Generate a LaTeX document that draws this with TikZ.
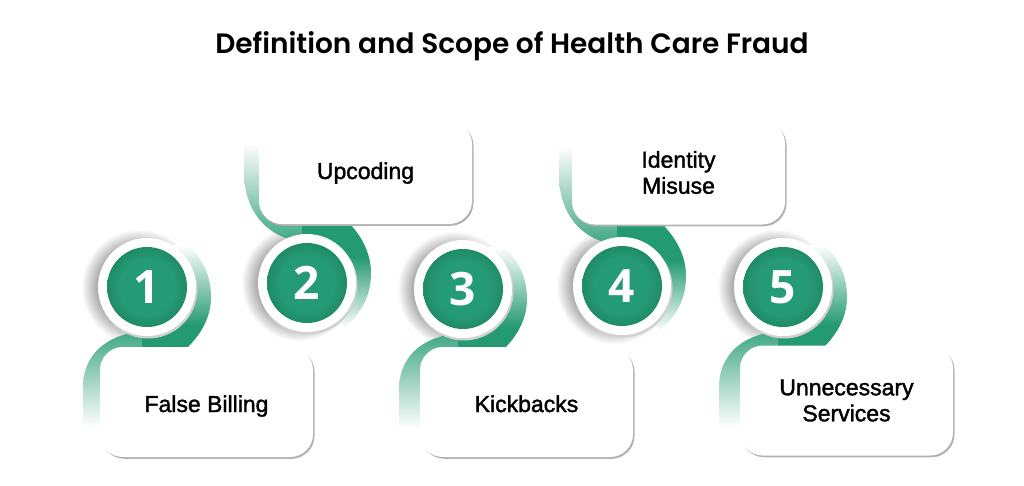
\documentclass[tikz,border=0pt]{standalone}
\usepackage{fontspec}
\setmainfont{Liberation Sans}
\newfontfamily\titlefont{Poppins SemiBold}
\newfontfamily\labelfont[FakeBold=1.6]{Liberation Sans}
\newfontfamily\numfont{Open Sans}
\usetikzlibrary{shadows}
\definecolor{gm}{HTML}{259B75}
\definecolor{gd}{HTML}{1F8B67}
\definecolor{rib}{HTML}{249A72}
\definecolor{ribl}{HTML}{3FA785}
\pgfdeclareradialshading{greenball}{\pgfpoint{0bp}{0bp}}{color(0bp)=(gm); color(17bp)=(gm); color(25bp)=(gd); color(50bp)=(gd)}
\pgfdeclareradialshading{halo}{\pgfpoint{0bp}{0bp}}{color(0bp)=(black!38); color(17bp)=(black!38); color(25bp)=(white); color(50bp)=(white)}
\tikzset{
  ring/.style={circle,fill=white,minimum size=98pt,inner sep=0pt},
  ball/.style={circle,shading=greenball,minimum size=80pt,inner sep=0pt,text=white,font=\numfont\bfseries\fontsize{46}{46}\selectfont},
  card/.style={rounded corners=23pt,fill=white,minimum width=213pt,align=center,inner sep=0pt,
    font=\labelfont\fontsize{23}{26}\selectfont,text=black,
    general shadow={shadow xshift=1.5pt,shadow yshift=-1.8pt,fill=black!30}},
  halodisc/.style={circle,shading=halo,minimum size=116pt,inner sep=0pt},
}
\newcommand{\badgeshadow}[2]{%
  \node[halodisc] (h#1) at (#1-8,#2) {};
}
\newcommand{\ribbonbelow}[2]{%
  \begin{scope}
    \clip (#1-64,#2+142) -- (#1-64,#2+100) .. controls (#1-64,#2+72) and (#1-46,#2+52) .. (#1-16,#2+46)
       -- (#1-4,#2+46) -- (#1-4,#2+75) -- (#1-30,#2+142) -- cycle;
    \shade[top color=ribl,bottom color=white] (#1-70,#2+44) rectangle (#1,#2+140);
  \end{scope}
  \begin{scope}
    \clip (#1-5,#2) -- (#1+29,#2-48) .. controls (#1+52,#2-38) and (#1+64,#2-15) .. (#1+64,#2+10)
       .. controls (#1+64,#2+28) and (#1+56,#2+45) .. (#1+41,#2+60) -- (#1+41,#2+75) -- (#1-5,#2+75) -- cycle;
    \shade[top color=white,bottom color=rib] (#1-8,#2-42) rectangle (#1+70,#2+38);
    \fill[rib] (#1-8,#2+37.8) rectangle (#1+70,#2+80);
  \end{scope}
}
\newcommand{\ribbonabove}[2]{%
  \begin{scope}
    \clip (#1-63,#2-140) -- (#1-63,#2-110) .. controls (#1-63,#2-78) and (#1-46,#2-52) .. (#1-18,#2-44)
       -- (#1-4,#2-44) -- (#1-4,#2-75) -- (#1-30,#2-140) -- cycle;
    \shade[top color=white,bottom color=ribl] (#1-70,#2-140) rectangle (#1,#2-42);
  \end{scope}
  \begin{scope}
    \clip (#1-5,#2) -- (#1+38,#2+44) .. controls (#1+55,#2+30) and (#1+64,#2+12) .. (#1+64,#2-10)
       .. controls (#1+64,#2-28) and (#1+56,#2-45) .. (#1+43,#2-59) -- (#1+43,#2-75) -- (#1-5,#2-75) -- cycle;
    \shade[top color=rib,bottom color=white] (#1-8,#2-26) rectangle (#1+70,#2+46);
    \fill[rib] (#1-8,#2-25.8) rectangle (#1+70,#2-80);
  \end{scope}
}
\newcommand{\badge}[3]{%
  \fill[black!18] (#1+1,#2+2) circle (49.5);
  \node[ring] (r#3) at (#1,#2) {};
  \node[ball] (b#3) at (#1,#2) {#3};
}
\newcommand{\low}[2]{\raisebox{-#1pt}[0pt][0pt]{#2}}
\begin{document}
\begin{tikzpicture}[x=1pt,y=-1pt]
\useasboundingbox (0,0) rectangle (1024,485);
\fill[white] (0,0) rectangle (1024,485);
\node[font=\titlefont\fontsize{28}{30}\selectfont,text=black] (title) at (512,46.5) {Definition and Scope of Health Care Fraud};

\badgeshadow{147}{287}
\badgeshadow{307}{283}
\badgeshadow{463}{289}
\badgeshadow{622}{286}
\badgeshadow{783}{287}

\ribbonbelow{147}{287}
\ribbonabove{307}{283}
\ribbonbelow{463}{289}
\ribbonabove{622}{286}
\ribbonbelow{783}{287}

\node[card,minimum height=110pt] (c1) at (206.5,402) {\low{10}{False Billing}};
\node[card,minimum height=103pt] (c2) at (365.5,172.5) {\low{6.5}{Upcoding}};
\node[card,minimum height=110pt] (c3) at (526.5,402) {\low{10}{Kickbacks}};
\node[card,minimum height=104pt] (c4) at (678.5,172.5) {Identity\\Misuse};
\node[card,minimum height=110pt] (c5) at (846.5,400.5) {Unnecessary\\Services};

\badge{147}{287}{1}
\badge{307}{283}{2}
\badge{463}{289}{3}
\badge{622}{286}{4}
\badge{783}{287}{5}
\end{tikzpicture}
\end{document}
